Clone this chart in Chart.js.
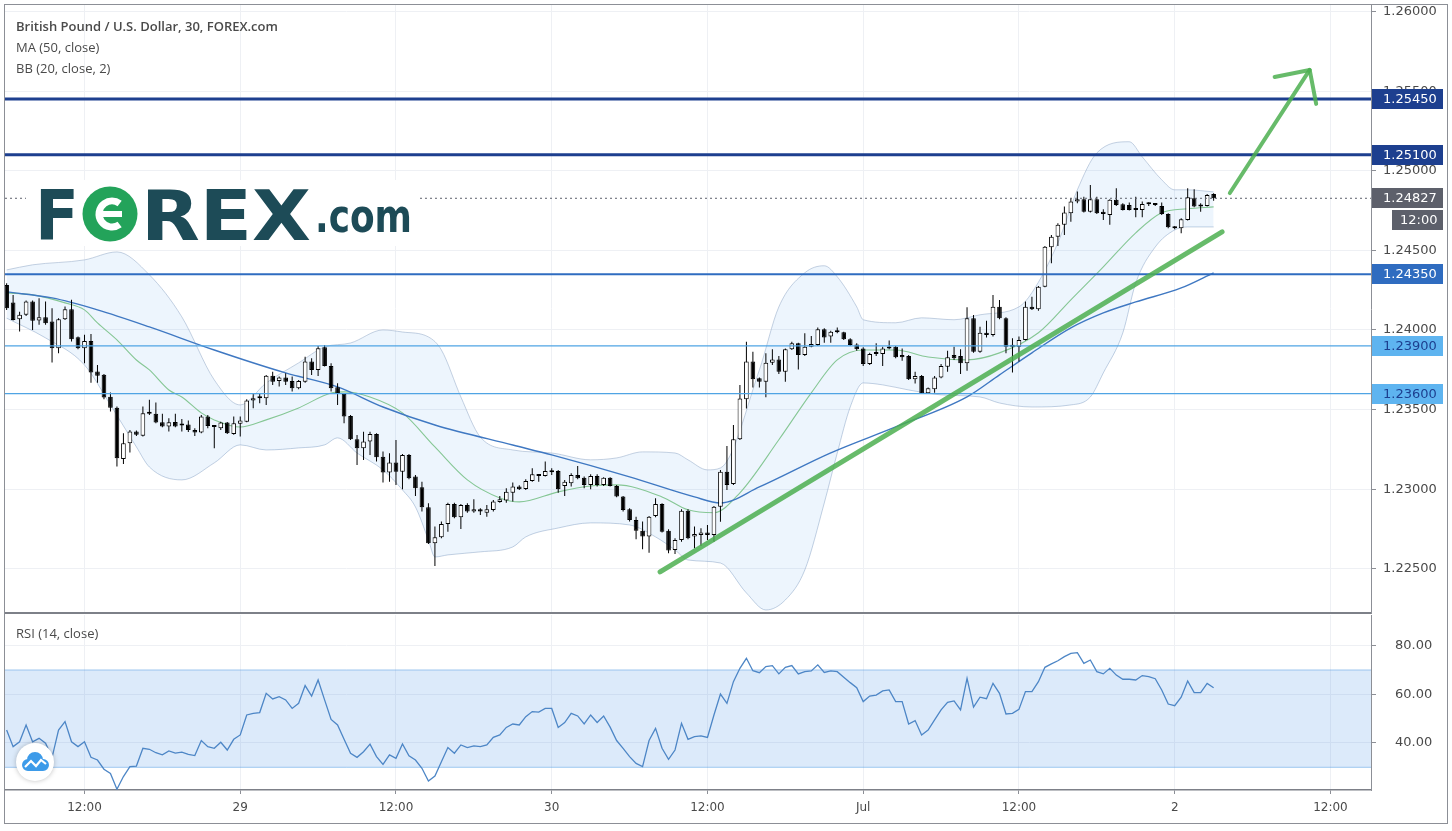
<!DOCTYPE html>
<html>
<head>
<meta charset="utf-8">
<script src="https://cdn.jsdelivr.net/npm/chart.js@4.4.0/dist/chart.umd.min.js"></script>
<style>
  html, body { margin: 0; padding: 0; background: #fff; }
  body { width: 1452px; height: 831px; position: relative; overflow: hidden; }
  canvas { position: absolute; left: 0; }
  #main { top: 0; width: 1452px; height: 614px; }
  #rsi { top: 614px; width: 1452px; height: 217px; }
  #frame { position: absolute; left: 4px; top: 4px; width: 1442px; height: 818px; border: 1px solid #8c8f96; pointer-events: none; }
</style>
</head>
<body>
<canvas id="main" width="1452" height="614"></canvas>
<canvas id="rsi" width="1452" height="217"></canvas>
<div id="frame"></div>
<script>
// 30 minute candles, index 0 = 28 Jun 06:00
const opens = [
  1.24283, 1.24172, 1.24067, 1.24095, 1.24178, 1.24059, 1.24080, 1.24053, 1.23885, 1.24067,
  1.24130, 1.23954, 1.23885, 1.23931, 1.23739, 1.23718, 1.23581, 1.23512, 1.23190, 1.23288,
  1.23362, 1.23336, 1.23473, 1.23473, 1.23420, 1.23393, 1.23422, 1.23406, 1.23406, 1.23372,
  1.23355, 1.23456, 1.23397, 1.23383, 1.23418, 1.23347, 1.23410, 1.23424, 1.23556, 1.23571,
  1.23571, 1.23713, 1.23680, 1.23701, 1.23680, 1.23634, 1.23675, 1.23801, 1.23749, 1.23891,
  1.23774, 1.23640, 1.23598, 1.23460, 1.23313, 1.23257, 1.23299, 1.23347, 1.23204, 1.23104,
  1.23167, 1.23110, 1.23215, 1.23079, 1.23012, 1.22886, 1.22660, 1.22698, 1.22781, 1.22907,
  1.22823, 1.22901, 1.22859, 1.22873, 1.22852, 1.22869, 1.22919, 1.22928, 1.22978, 1.23016,
  1.23001, 1.23051, 1.23083, 1.23083, 1.23106, 1.23114, 1.23020, 1.23037, 1.23089, 1.23072,
  1.23026, 1.23083, 1.23026, 1.23072, 1.23020, 1.22953, 1.22873, 1.22806, 1.22739, 1.22702,
  1.22832, 1.22907, 1.22739, 1.22618, 1.22681, 1.22865, 1.22702, 1.22712, 1.22727, 1.22712,
  1.22890, 1.23110, 1.23032, 1.23313, 1.23564, 1.23801, 1.23696, 1.23675, 1.23794, 1.23815,
  1.23738, 1.23878, 1.23916, 1.23843, 1.23895, 1.23905, 1.24004, 1.23958, 1.23985, 1.23985,
  1.23941, 1.23909, 1.23884, 1.23786, 1.23857, 1.23849, 1.23895, 1.23895, 1.23843, 1.23836,
  1.23690, 1.23711, 1.23602, 1.23627, 1.23702, 1.23769, 1.23843, 1.23836, 1.23790, 1.24073,
  1.23863, 1.23983, 1.23968, 1.24146, 1.24073, 1.23895, 1.23895, 1.23937, 1.24146, 1.24130,
  1.24272, 1.24519, 1.24586, 1.24660, 1.24733, 1.24806, 1.24821, 1.24743, 1.24821, 1.24743,
  1.24722, 1.24817, 1.24789, 1.24785, 1.24758, 1.24754, 1.24789, 1.24789, 1.24779, 1.24729,
  1.24649, 1.24639, 1.24691, 1.24827, 1.24775, 1.24779, 1.24854
];
const highs = [
  1.24293, 1.24220, 1.24115, 1.24185, 1.24185, 1.24199, 1.24178, 1.24136, 1.24074, 1.24147,
  1.24189, 1.23958, 1.23969, 1.23975, 1.23780, 1.23724, 1.23607, 1.23519, 1.23351, 1.23372,
  1.23368, 1.23519, 1.23561, 1.23544, 1.23473, 1.23445, 1.23473, 1.23441, 1.23431, 1.23383,
  1.23466, 1.23466, 1.23399, 1.23424, 1.23422, 1.23456, 1.23456, 1.23565, 1.23598, 1.23602,
  1.23717, 1.23738, 1.23707, 1.23728, 1.23707, 1.23686, 1.23832, 1.23822, 1.23899, 1.23906,
  1.23791, 1.23665, 1.23602, 1.23466, 1.23340, 1.23361, 1.23361, 1.23351, 1.23236, 1.23225,
  1.23309, 1.23221, 1.23221, 1.23089, 1.23047, 1.22911, 1.22765, 1.22796, 1.22915, 1.22915,
  1.22907, 1.22911, 1.22936, 1.22880, 1.22901, 1.22932, 1.22957, 1.23005, 1.23041, 1.23024,
  1.23062, 1.23131, 1.23095, 1.23173, 1.23131, 1.23121, 1.23058, 1.23100, 1.23146, 1.23079,
  1.23093, 1.23093, 1.23074, 1.23074, 1.23026, 1.22957, 1.22880, 1.22827, 1.22796, 1.22832,
  1.22943, 1.22911, 1.22748, 1.22691, 1.22873, 1.22873, 1.22765, 1.22754, 1.22775, 1.22894,
  1.23120, 1.23271, 1.23403, 1.23654, 1.23926, 1.23863, 1.23702, 1.23853, 1.23878, 1.23836,
  1.23884, 1.23926, 1.23920, 1.23979, 1.23962, 1.24016, 1.24010, 1.23995, 1.24016, 1.23989,
  1.23947, 1.23916, 1.23891, 1.23857, 1.23916, 1.23895, 1.23933, 1.23899, 1.23884, 1.23843,
  1.23738, 1.23717, 1.23639, 1.23711, 1.23786, 1.23870, 1.23895, 1.23878, 1.24142, 1.24094,
  1.24020, 1.24058, 1.24220, 1.24188, 1.24080, 1.23948, 1.23958, 1.24178, 1.24209, 1.24276,
  1.24528, 1.24597, 1.24670, 1.24775, 1.24827, 1.24869, 1.24837, 1.24911, 1.24837, 1.24758,
  1.24821, 1.24890, 1.24796, 1.24800, 1.24837, 1.24806, 1.24802, 1.24796, 1.24800, 1.24733,
  1.24653, 1.24701, 1.24890, 1.24884, 1.24796, 1.24854, 1.24858
];
const lows = [
  1.24126, 1.24059, 1.23990, 1.24088, 1.24000, 1.24032, 1.24032, 1.23795, 1.23854, 1.24063,
  1.23927, 1.23879, 1.23791, 1.23669, 1.23669, 1.23565, 1.23487, 1.23142, 1.23158, 1.23230,
  1.23334, 1.23330, 1.23466, 1.23414, 1.23389, 1.23362, 1.23389, 1.23362, 1.23359, 1.23334,
  1.23351, 1.23383, 1.23257, 1.23372, 1.23347, 1.23341, 1.23330, 1.23420, 1.23508, 1.23539,
  1.23529, 1.23654, 1.23644, 1.23654, 1.23613, 1.23627, 1.23669, 1.23717, 1.23711, 1.23770,
  1.23613, 1.23529, 1.23414, 1.23309, 1.23152, 1.23183, 1.23215, 1.23173, 1.23041, 1.23047,
  1.23026, 1.22999, 1.23062, 1.22957, 1.22859, 1.22656, 1.22517, 1.22691, 1.22733, 1.22817,
  1.22750, 1.22852, 1.22852, 1.22838, 1.22827, 1.22859, 1.22915, 1.22915, 1.22922, 1.22995,
  1.22995, 1.23047, 1.23047, 1.23079, 1.23089, 1.22978, 1.22957, 1.23016, 1.23062, 1.23005,
  1.22999, 1.23016, 1.23020, 1.23016, 1.22949, 1.22859, 1.22796, 1.22685, 1.22622, 1.22601,
  1.22823, 1.22727, 1.22597, 1.22593, 1.22670, 1.22685, 1.22628, 1.22643, 1.22681, 1.22670,
  1.22795, 1.22994, 1.23026, 1.23309, 1.23507, 1.23639, 1.23639, 1.23577, 1.23780, 1.23723,
  1.23675, 1.23874, 1.23752, 1.23836, 1.23891, 1.23899, 1.23920, 1.23920, 1.23979, 1.23937,
  1.23899, 1.23870, 1.23773, 1.23780, 1.23836, 1.23773, 1.23878, 1.23822, 1.23807, 1.23685,
  1.23664, 1.23598, 1.23598, 1.23606, 1.23696, 1.23738, 1.23811, 1.23723, 1.23744, 1.23857,
  1.23857, 1.23953, 1.23958, 1.24067, 1.23853, 1.23732, 1.23801, 1.23933, 1.24126, 1.24121,
  1.24268, 1.24419, 1.24528, 1.24597, 1.24680, 1.24796, 1.24737, 1.24737, 1.24729, 1.24691,
  1.24660, 1.24779, 1.24750, 1.24750, 1.24708, 1.24708, 1.24779, 1.24779, 1.24722, 1.24639,
  1.24632, 1.24607, 1.24687, 1.24770, 1.24743, 1.24775, 1.24812
];
const closes = [
  1.24136, 1.24063, 1.24095, 1.24178, 1.24057, 1.24080, 1.24042, 1.23885, 1.24067, 1.24130,
  1.23942, 1.23885, 1.23931, 1.23732, 1.23713, 1.23575, 1.23512, 1.23194, 1.23288, 1.23362,
  1.23341, 1.23477, 1.23481, 1.23418, 1.23393, 1.23420, 1.23393, 1.23399, 1.23372, 1.23355,
  1.23456, 1.23397, 1.23391, 1.23418, 1.23351, 1.23414, 1.23431, 1.23556, 1.23571, 1.23575,
  1.23713, 1.23675, 1.23701, 1.23675, 1.23634, 1.23680, 1.23801, 1.23749, 1.23885, 1.23774,
  1.23634, 1.23598, 1.23456, 1.23313, 1.23257, 1.23299, 1.23347, 1.23200, 1.23104, 1.23167,
  1.23110, 1.23215, 1.23068, 1.23005, 1.22886, 1.22660, 1.22698, 1.22781, 1.22907, 1.22823,
  1.22901, 1.22859, 1.22873, 1.22859, 1.22873, 1.22922, 1.22936, 1.22984, 1.23016, 1.22999,
  1.23051, 1.23093, 1.23091, 1.23114, 1.23114, 1.22999, 1.23047, 1.23089, 1.23068, 1.23026,
  1.23083, 1.23026, 1.23072, 1.23020, 1.22953, 1.22869, 1.22806, 1.22739, 1.22702, 1.22827,
  1.22907, 1.22733, 1.22614, 1.22681, 1.22865, 1.22691, 1.22719, 1.22727, 1.22712, 1.22890,
  1.23110, 1.23026, 1.23313, 1.23570, 1.23801, 1.23690, 1.23675, 1.23794, 1.23815, 1.23738,
  1.23878, 1.23916, 1.23843, 1.23895, 1.23912, 1.24004, 1.23953, 1.23989, 1.23989, 1.23941,
  1.23905, 1.23878, 1.23786, 1.23849, 1.23849, 1.23884, 1.23884, 1.23828, 1.23828, 1.23690,
  1.23711, 1.23602, 1.23633, 1.23702, 1.23773, 1.23828, 1.23822, 1.23790, 1.24073, 1.23863,
  1.23983, 1.23968, 1.24146, 1.24073, 1.23895, 1.23906, 1.23937, 1.24146, 1.24130, 1.24272,
  1.24523, 1.24586, 1.24660, 1.24737, 1.24806, 1.24821, 1.24743, 1.24821, 1.24733, 1.24729,
  1.24817, 1.24785, 1.24754, 1.24754, 1.24754, 1.24791, 1.24791, 1.24785, 1.24729, 1.24645,
  1.24639, 1.24695, 1.24833, 1.24775, 1.24785, 1.24848, 1.24827
];

// indicator lines (candle index, price)
const maIdx = [0, 7, 14, 22, 32, 43, 51, 58, 66, 78, 84, 96, 106, 110, 116, 127, 137, 148, 153, 158, 164, 169, 174, 181, 186];
const maVals = [1.24239, 1.24201, 1.24126, 1.24019, 1.23874, 1.23730, 1.23642, 1.23516, 1.23403, 1.23277, 1.23215, 1.23077, 1.22951, 1.22913, 1.23014, 1.23228, 1.23391, 1.23580, 1.23718, 1.23856, 1.24013, 1.24107, 1.24176, 1.24264, 1.24359];

const bbMidIdx = [0, 4, 9, 12, 14, 17, 20, 22, 25, 27, 30, 32, 36, 40, 45, 50, 52, 56, 61, 66, 71, 76, 79, 85, 90, 94, 101, 105, 109, 113, 119, 124, 128, 132, 137, 142, 148, 153, 159, 164, 169, 174, 178, 182, 186];
const bbMidVals = [1.24233, 1.24220, 1.24170, 1.24126, 1.24044, 1.23937, 1.23811, 1.23749, 1.23623, 1.23579, 1.23479, 1.23435, 1.23390, 1.23435, 1.23510, 1.23604, 1.23611, 1.23579, 1.23479, 1.23265, 1.23058, 1.22945, 1.22920, 1.22983, 1.23020, 1.23027, 1.22951, 1.22870, 1.22852, 1.22977, 1.23310, 1.23605, 1.23812, 1.23874, 1.23874, 1.23830, 1.23812, 1.23856, 1.23982, 1.24189, 1.24396, 1.24610, 1.24736, 1.24761, 1.24773];

const bbUpIdx = [0, 4, 12, 17, 22, 27, 32, 36, 40, 45, 49, 53, 58, 61, 65, 67, 70, 73, 78, 84, 90, 94, 98, 103, 105, 108, 110, 116, 119, 123, 126, 128, 131, 132, 137, 141, 146, 150, 156, 158, 162, 165, 168, 173, 175, 178, 180, 182, 186];
const bbUpVals = [1.24377, 1.24409, 1.24440, 1.24490, 1.24346, 1.24082, 1.23686, 1.23529, 1.23667, 1.23793, 1.23893, 1.23918, 1.24000, 1.23987, 1.23956, 1.23874, 1.23579, 1.23327, 1.23246, 1.23227, 1.23184, 1.23196, 1.23234, 1.23227, 1.23184, 1.23121, 1.23133, 1.23749, 1.24145, 1.24359, 1.24403, 1.24334, 1.24145, 1.24064, 1.24045, 1.24076, 1.24064, 1.24095, 1.24145, 1.24234, 1.24547, 1.24880, 1.25112, 1.25182, 1.25087, 1.24943, 1.24880, 1.24880, 1.24867];

const bbLowIdx = [0, 6, 12, 16, 20, 22, 27, 32, 36, 40, 45, 49, 51, 54, 58, 61, 63, 65, 66, 68, 73, 78, 80, 85, 90, 96, 100, 103, 105, 110, 114, 117, 120, 123, 126, 128, 130, 132, 135, 139, 144, 150, 153, 158, 164, 167, 169, 172, 174, 177, 180, 182, 186];
const bbLowVals = [1.24074, 1.23950, 1.23780, 1.23529, 1.23265, 1.23139, 1.23058, 1.23165, 1.23278, 1.23246, 1.23259, 1.23278, 1.23322, 1.23227, 1.23121, 1.22995, 1.22888, 1.22681, 1.22574, 1.22587, 1.22606, 1.22637, 1.22700, 1.22756, 1.22788, 1.22775, 1.22700, 1.22618, 1.22555, 1.22536, 1.22348, 1.22241, 1.22304, 1.22492, 1.22913, 1.23227, 1.23516, 1.23667, 1.23655, 1.23623, 1.23592, 1.23579, 1.23541, 1.23516, 1.23529, 1.23579, 1.23730, 1.23981, 1.24295, 1.24521, 1.24628, 1.24647, 1.24647];

// RSI(14) per candle
const rsiVals = [
  45.3, 38.5, 40.5, 47.4, 40.5, 41.9, 39.9, 34.0, 45.3, 48.8,
  40.5, 38.5, 40.5, 34.1, 33.0, 29.2, 27.5, 21.0, 26.2, 30.3,
  30.5, 37.8, 37.4, 36.0, 35.1, 36.7, 35.8, 36.2, 35.3, 34.8,
  41.0, 38.5, 37.8, 40.3, 37.1, 41.5, 43.3, 51.5, 52.2, 52.5,
  60.4, 58.1, 59.0, 57.7, 54.2, 56.3, 63.6, 59.3, 65.9, 57.7,
  49.7, 47.4, 41.5, 35.8, 34.1, 36.4, 39.5, 34.4, 31.2, 35.1,
  33.7, 39.6, 34.7, 33.0, 29.6, 24.4, 26.4, 32.3, 38.1, 35.8,
  39.2, 38.1, 38.8, 38.5, 39.2, 42.3, 43.3, 46.4, 47.8, 47.4,
  50.8, 52.9, 52.7, 54.2, 54.2, 46.4, 48.4, 52.2, 51.1, 47.8,
  51.5, 48.4, 51.1, 46.5, 41.0, 37.8, 34.4, 31.6, 30.3, 41.0,
  46.0, 37.8, 33.3, 37.1, 48.1, 41.5, 42.6, 42.9, 42.3, 51.5,
  60.1, 56.3, 65.2, 70.7, 74.8, 69.7, 68.9, 71.4, 71.8, 68.4,
  71.1, 71.8, 68.4, 69.3, 69.6, 72.1, 69.0, 69.6, 69.3, 67.0,
  64.8, 62.7, 57.0, 59.3, 59.7, 61.4, 61.8, 57.0, 57.0, 47.8,
  49.2, 43.3, 45.3, 49.5, 53.6, 56.7, 57.3, 53.6, 66.6, 54.7,
  58.8, 58.2, 64.5, 60.4, 51.9, 52.2, 53.8, 61.1, 61.1, 65.2,
  71.1, 72.5, 73.8, 75.5, 76.8, 77.1, 72.7, 74.1, 69.3, 68.4,
  70.7, 67.9, 66.2, 66.2, 65.9, 67.7, 67.3, 66.4, 61.8, 56.0,
  55.3, 58.8, 65.5, 60.7, 60.7, 64.5, 62.7
];
const rsiBand = [30, 70];

// drawn levels and annotations
const levelVals = [1.2545, 1.251, 1.2435, 1.239, 1.236];
const lastPrice = 1.24827;
const trendIdx = [100.7, 187.3];
const trendVals = [1.2248, 1.24616];
const arrowIdx = [188.5, 200.8];
const arrowVals = [1.2486, 1.25633];
const arrowHeadIdx = [195.4, 200.8, 201.8];
const arrowHeadVals = [1.25589, 1.25633, 1.2542];

// axes
const xTickIdx = [12, 36, 60, 84, 108, 132, 156, 180, 204];
const xTickLabels = ['12:00', '29', '12:00', '30', '12:00', 'Jul', '12:00', '2', '12:00'];
const yTickVals = [1.225, 1.23, 1.235, 1.24, 1.245, 1.25, 1.255, 1.26];
const rsiTickVals = [40, 60, 80];

const title = 'British Pound / U.S. Dollar, 30, FOREX.com';
const maLabel = 'MA (50, close)';
const bbLabel = 'BB (20, close, 2)';
const rsiLabel = 'RSI (14, close)';
const countdown = '12:00';

// styles
const X_MIN = -0.25, X_MAX = 210.25;
const gridColor = '#eef0f4';
const axisColor = '#8c8f96';
const levelLine = ['#1d3f8f', '#1d3f8f', '#2f6cc0', '#4fa4e4', '#4fa4e4'];
const levelWidth = [3, 3, 2, 1.2, 1.2];
const levelBox = ['#1d3f8f', '#1d3f8f', '#2f6cc0', '#5eb4f0', '#5eb4f0'];
const levelText = ['#ffffff', '#ffffff', '#ffffff', '#1d3f8f', '#1d3f8f'];
const green = 'rgba(76,175,80,0.85)';

const pts = (xs, ys) => xs.map((x, i) => ({ x, y: ys[i] }));
const flat = (v) => [{ x: X_MIN, y: v }, { x: X_MAX, y: v }];

function line(data, color, width, extra) {
  return Object.assign({
    type: 'line',
    data,
    borderColor: color,
    borderWidth: width,
    pointRadius: 0,
    fill: false,
    cubicInterpolationMode: 'monotone'
  }, extra || {});
}

const candleIdx = closes.map((_, i) => i);

function fitText(ctx, text, x, base, w) {
  const m = ctx.measureText(text).width;
  ctx.save();
  ctx.translate(x, base);
  ctx.scale(w / m, 1);
  ctx.fillText(text, 0, 0);
  ctx.restore();
}

function drawLogo(ctx) {
  ctx.fillStyle = '#ffffff';
  ctx.fillRect(26, 180, 394, 66);
  ctx.textAlign = 'left';
  ctx.textBaseline = 'alphabetic';
  ctx.fillStyle = '#1d4b57';
  ctx.font = 'bold 70px "DejaVu Sans"';
  fitText(ctx, 'F', 35, 240, 44);
  fitText(ctx, 'REX', 141, 240, 170);
  ctx.font = 'bold 46px "DejaVu Sans"';
  fitText(ctx, '.com', 315, 232, 97);
  ctx.fillStyle = '#23a35a';
  ctx.beginPath();
  ctx.arc(110, 214, 27.5, 0, Math.PI * 2);
  ctx.fill();
  ctx.strokeStyle = '#ffffff';
  ctx.lineWidth = 7;
  ctx.beginPath();
  ctx.arc(112, 214, 13, Math.PI * 0.3, Math.PI * 1.7);
  ctx.stroke();
  ctx.fillStyle = '#ffffff';
  ctx.fillRect(99, 211, 23, 6);
}

const mainOverlay = {
  id: 'mainOverlay',
  afterDraw(chart) {
    const ctx = chart.ctx;
    const y = chart.scales.y;
    ctx.save();
    ctx.textAlign = 'left';
    ctx.textBaseline = 'middle';
    ctx.fillStyle = '#4a4a4a';
    ctx.font = '600 13px "Open Sans"';
    ctx.fillText(title, 16, 27);
    ctx.font = '13px "Open Sans"';
    ctx.fillText(maLabel, 16, 48);
    ctx.fillText(bbLabel, 16, 69);

    drawLogo(ctx);

    // price labels on the axis
    ctx.textAlign = 'left';
    ctx.textBaseline = 'middle';
    ctx.font = '13px "DejaVu Sans"';
    levelVals.forEach((v, i) => {
      const py = Math.round(y.getPixelForValue(v));
      ctx.fillStyle = levelBox[i];
      ctx.fillRect(1372, py - 10, 71, 20);
      ctx.fillStyle = levelText[i];
      ctx.fillText(v.toFixed(5), 1383, py + 1);
    });
    const lp = Math.round(y.getPixelForValue(lastPrice));
    ctx.fillStyle = '#5d606b';
    ctx.fillRect(1372, lp - 10, 71, 20);
    ctx.fillRect(1392, lp + 12, 51, 20);
    ctx.fillStyle = '#ffffff';
    ctx.fillText(lastPrice.toFixed(5), 1383, lp + 1);
    ctx.fillText(countdown, 1400, lp + 23);
    ctx.restore();
  }
};

const rsiOverlay = {
  id: 'rsiOverlay',
  afterDraw(chart) {
    const ctx = chart.ctx;
    ctx.save();
    ctx.textAlign = 'left';
    ctx.textBaseline = 'middle';
    ctx.fillStyle = '#4a4a4a';
    ctx.font = '13px "Open Sans"';
    ctx.fillText(rsiLabel, 16, 20);
    // tradingview badge
    ctx.shadowColor = 'rgba(0,0,0,0.25)';
    ctx.shadowBlur = 5;
    ctx.fillStyle = '#ffffff';
    ctx.beginPath();
    ctx.arc(35, 148, 19, 0, Math.PI * 2);
    ctx.fill();
    ctx.shadowBlur = 0;
    ctx.fillStyle = '#3d9be9';
    ctx.beginPath();
    ctx.arc(28, 151, 6, 0, Math.PI * 2);
    ctx.arc(35, 146, 8, 0, Math.PI * 2);
    ctx.arc(43, 151, 6, 0, Math.PI * 2);
    ctx.fill();
    ctx.fillRect(28, 150, 15, 7);
    ctx.strokeStyle = '#ffffff';
    ctx.lineWidth = 2.2;
    ctx.beginPath();
    ctx.moveTo(25, 153);
    ctx.lineTo(31, 147);
    ctx.lineTo(36, 152);
    ctx.lineTo(41, 146);
    ctx.lineTo(46, 150);
    ctx.stroke();
    ctx.restore();
  }
};

const xScaleBase = {
  type: 'linear',
  min: X_MIN,
  max: X_MAX,
  offset: false,
  afterBuildTicks: (s) => { s.ticks = xTickIdx.map((v) => ({ value: v })); }
};

new Chart(document.getElementById('main'), {
  type: 'bar',
  data: {
    datasets: [
      line(pts(bbUpIdx, bbUpVals), 'rgba(150,172,200,0.55)', 1, { fill: '+1', backgroundColor: 'rgba(60,140,230,0.09)', order: 9 }),
      line(pts(bbLowIdx, bbLowVals), 'rgba(150,172,200,0.55)', 1, { order: 9 }),
      line(pts(bbMidIdx, bbMidVals), '#86c795', 1.1, { order: 8 }),
      line(pts(maIdx, maVals), '#3f78c2', 1.4, { order: 7 }),
      {
        type: 'bar',
        data: candleIdx.map((i) => ({ x: i, y: [lows[i], highs[i]] })),
        backgroundColor: '#000000',
        borderWidth: 0,
        grouped: false,
        maxBarThickness: 1,
        order: 6
      },
      {
        type: 'bar',
        data: candleIdx.map((i) => ({ x: i, y: [opens[i], closes[i]] })),
        backgroundColor: candleIdx.map((i) => closes[i] >= opens[i] ? '#ffffff' : '#000000'),
        borderColor: '#000000',
        borderWidth: 1,
        borderSkipped: false,
        grouped: false,
        maxBarThickness: 5,
        minBarLength: 2,
        order: 5
      },
      ...levelVals.map((v, i) => line(flat(v), levelLine[i], levelWidth[i], { order: 4 })),
      line(flat(lastPrice), '#5d606b', 1, { borderDash: [2, 3], order: 4 }),
      line(pts(trendIdx, trendVals), green, 5, { order: 2, borderCapStyle: 'round' }),
      line(pts(arrowIdx, arrowVals), green, 4, { order: 1, borderCapStyle: 'round' }),
      line(pts(arrowHeadIdx, arrowHeadVals), green, 4, { order: 1, borderCapStyle: 'round', borderJoinStyle: 'round', cubicInterpolationMode: 'default', tension: 0 })
    ]
  },
  options: {
    responsive: false,
    animation: false,
    events: [],
    layout: { autoPadding: false, padding: { left: 5, top: 5, right: 0, bottom: 1 } },
    plugins: { legend: { display: false }, tooltip: { enabled: false } },
    scales: {
      x: Object.assign({}, xScaleBase, {
        ticks: { display: false },
        grid: { color: gridColor, drawTicks: false, offset: false },
        border: { display: true, color: '#7d8088', width: 2 },
        afterFit: (s) => { s.height = 0; }
      }),
      y: {
        position: 'right',
        min: 1.22222,
        max: 1.26041,
        afterBuildTicks: (s) => { s.ticks = yTickVals.map((v) => ({ value: v })); },
        ticks: {
          callback: (v) => Number(v).toFixed(5),
          color: '#4a4a4a',
          font: { family: 'DejaVu Sans', size: 13 },
          padding: 7
        },
        grid: { color: gridColor, tickColor: axisColor, tickLength: 5 },
        border: { color: axisColor },
        afterFit: (s) => { s.width = 81; s.paddingTop = 0; s.paddingBottom = 0; }
      }
    }
  },
  plugins: [mainOverlay]
});

new Chart(document.getElementById('rsi'), {
  type: 'line',
  data: {
    datasets: [
      line(flat(rsiBand[1]), 'rgba(90,160,230,0.55)', 1, { fill: '+1', backgroundColor: 'rgba(60,140,230,0.18)', order: 3 }),
      line(flat(rsiBand[0]), 'rgba(90,160,230,0.55)', 1, { order: 3 }),
      line(pts(candleIdx, rsiVals), '#4d86c6', 1.3, { order: 0, cubicInterpolationMode: 'default', tension: 0 })
    ]
  },
  options: {
    responsive: false,
    animation: false,
    events: [],
    layout: { autoPadding: false, padding: { left: 5, top: 1, right: 0, bottom: 0 } },
    plugins: { legend: { display: false }, tooltip: { enabled: false } },
    scales: {
      x: Object.assign({}, xScaleBase, {
        ticks: {
          autoSkip: false,
          maxRotation: 0,
          callback: (v, i) => xTickLabels[i],
          color: '#4a4a4a',
          font: { family: 'DejaVu Sans', size: 12 },
          padding: 7
        },
        grid: { color: gridColor, tickColor: axisColor, tickLength: 4, offset: false },
        border: { color: '#7d8088', width: 1.5 },
        afterFit: (s) => { s.height = 41; s.paddingLeft = 0; s.paddingRight = 0; }
      }),
      y: {
        position: 'right',
        min: 20.67,
        max: 92.6,
        afterBuildTicks: (s) => { s.ticks = rsiTickVals.map((v) => ({ value: v })); },
        ticks: {
          callback: (v) => Number(v).toFixed(2),
          color: '#4a4a4a',
          font: { family: 'DejaVu Sans', size: 13 },
          padding: 19
        },
        grid: { color: gridColor, tickColor: axisColor, tickLength: 5 },
        border: { color: axisColor },
        afterFit: (s) => { s.width = 81; s.paddingTop = 0; s.paddingBottom = 0; }
      }
    }
  },
  plugins: [rsiOverlay]
});
</script>
</body>
</html>
